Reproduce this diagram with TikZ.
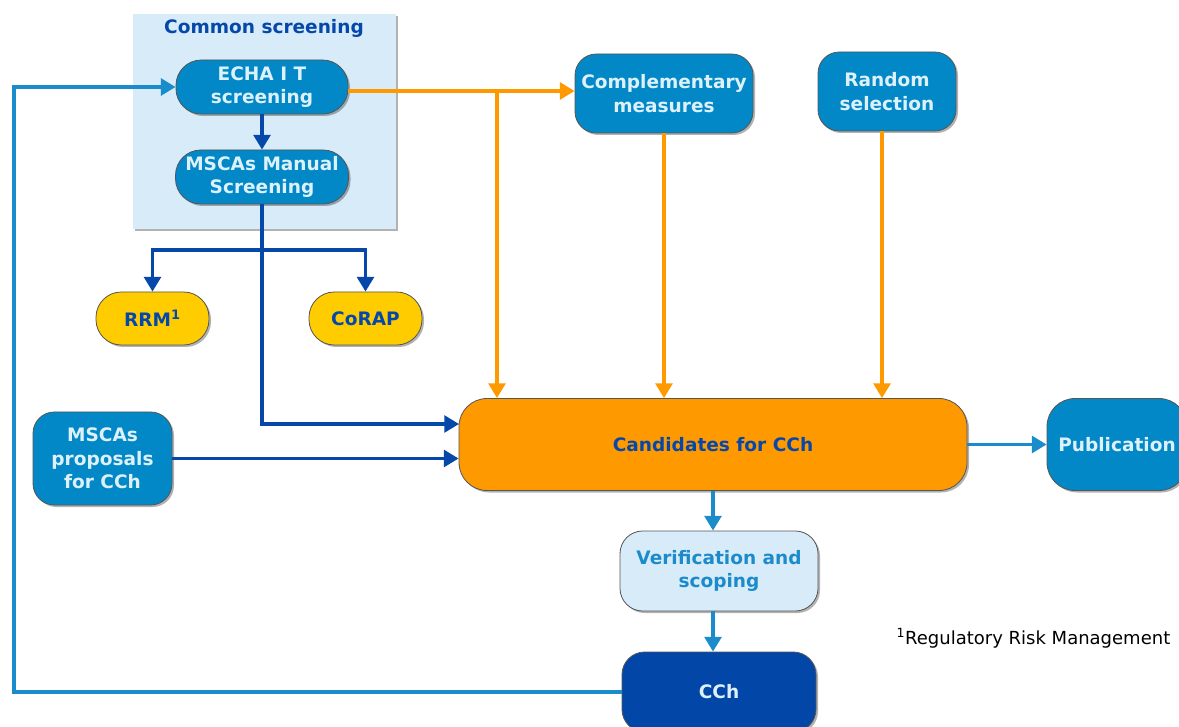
\documentclass[tikz,border=0pt]{standalone}
\usepackage{fontspec}
\setmainfont{DejaVu Sans}
\usetikzlibrary{arrows.meta,calc,shadows}
\definecolor{midblue}{RGB}{2,136,199}
\definecolor{lighttext}{RGB}{220,241,251}
\definecolor{darkblue}{RGB}{5,72,170}
\definecolor{cchblue}{RGB}{2,70,168}
\definecolor{orng}{RGB}{255,153,0}
\definecolor{yel}{RGB}{255,204,0}
\definecolor{lightbg}{RGB}{215,236,248}
\definecolor{vertext}{RGB}{28,139,203}
\definecolor{fbblue}{RGB}{27,140,203}
\definecolor{bordergray}{RGB}{85,85,85}
\tikzset{
  shad/.style={drop shadow={shadow xshift=1.5pt,shadow yshift=-1.5pt,opacity=0.3,fill=black}},
  box/.style={shad,draw=bordergray,line width=0.6pt,align=center,inner sep=0pt,
    font=\fontsize{13.9}{17.5}\selectfont\bfseries},
  pill/.style={box,rounded corners=19pt,fill=midblue,text=lighttext},
  yelpill/.style={box,rounded corners=19pt,fill=yel,text=darkblue},
  bluebox/.style={box,rounded corners=16pt,fill=midblue,text=lighttext},
  con/.style={line width=2.6pt,-{Triangle[width=12.5pt,length=11pt]}},
  dk/.style={con,draw=darkblue,color=darkblue},
  orl/.style={con,draw=orng,color=orng},
  mb/.style={con,draw=fbblue,color=fbblue},
  plain/.style={line width=2.6pt}
}
\begin{document}
\begin{tikzpicture}[x=0.75pt,y=-0.75pt]
\useasboundingbox (0,0) rectangle (1179,727);
\fill[white] (0,0) rectangle (1179,727);
% common screening background
\node[shad,fill=lightbg,minimum width=197.25pt,minimum height=161.25pt,inner sep=0pt] (bg) at (264.5,121.5) {};
\node[font=\fontsize{13.9}{17.5}\selectfont\bfseries,text=darkblue] (title) at (264,28) {Common screening};
% nodes
\node[pill,minimum width=129pt,minimum height=40.5pt] (echa) at (262,87) {ECHA I T\\screening};
\node[pill,minimum width=129.75pt,minimum height=40.5pt] (man) at (262,177) {MSCAs Manual\\Screening};
\node[yelpill,minimum width=84.75pt,minimum height=39.75pt] (rrm) at (152.5,318.5) {RRM\textsuperscript{1}};
\node[yelpill,minimum width=84.75pt,minimum height=39.75pt] (corap) at (365.5,318.5) {CoRAP};
\node[bluebox,minimum width=133.5pt,minimum height=59.25pt] (comp) at (664,93.5) {Complementary\\measures};
\node[bluebox,minimum width=103.5pt,minimum height=59.25pt] (rand) at (887,91.5) {Random\\selection};
\node[box,rounded corners=21pt,fill=orng,text=darkblue,minimum width=381pt,minimum height=69pt] (cand) at (713,444.5) {Candidates for CCh};
\node[bluebox,rounded corners=21pt,minimum width=105pt,minimum height=69pt] (pub) at (1117,444.5) {Publication};
\node[bluebox,minimum width=104.25pt,minimum height=69.75pt] (prop) at (102.5,458.5) {MSCAs\\proposals\\for CCh};
\node[box,rounded corners=17pt,fill=lightbg,text=vertext,minimum width=148.5pt,minimum height=60pt] (ver) at (719,571) {Verification and\\scoping};
\node[box,rounded corners=17pt,fill=cchblue,text=lighttext,minimum width=145.5pt,minimum height=60pt] (cch) at (719,692) {CCh};
\node[font=\fontsize{13.5}{15}\selectfont,anchor=east] (foot) at (1175,638) {\textsuperscript{1}Regulatory Risk Management};
% coordinates
\coordinate (fbx) at (14,690);
\coordinate (br) at (262,250);
\coordinate (c1) at (459,424);
\coordinate (oj) at (497,91);
% feedback loop
\draw[mb] (cch.west) -- (cch.west -| fbx) |- (echa.west);
% dark blue
\draw[dk] (echa.south) -- (man.north);
\draw[plain,draw=darkblue] (man.south) -- (br);
\draw[dk] (br) -| (rrm.north);
\draw[dk] (br) -| (corap.north);
\draw[dk] (br) |- (c1);
\draw[dk] (prop.east) -- (prop.east -| cand.west);
% orange
\draw[orl] (echa.east |- oj) -- (comp.west |- oj);
\draw[orl] (oj) -- (oj |- cand.north);
\draw[orl] (comp.south) -- (comp.south |- cand.north);
\draw[orl] ([xshift=-3.75pt]rand.south) -- ([xshift=-3.75pt]rand.south |- cand.north);
% mid blue
\draw[mb] (cand.east) -- (pub.west);
\draw[mb] (cand.south) -- (cand.south |- ver.north);
\draw[mb] (ver.south -| cand.south) -- (cand.south |- cch.north);
\end{tikzpicture}
\end{document}
